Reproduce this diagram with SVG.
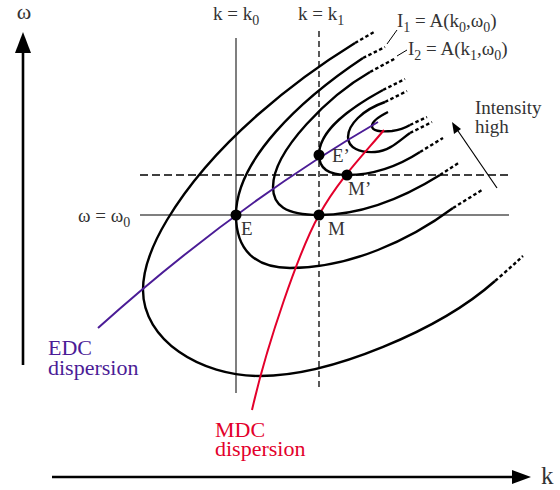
<svg xmlns="http://www.w3.org/2000/svg" width="560" height="490" viewBox="0 0 560 490">
<style>
text{font-family:"Liberation Serif","Times New Roman",serif;font-size:19px;fill:#333}
text.big{font-size:22px}
text.ax{font-size:22px}
text.axk{font-size:25px}
text.edc{fill:#4b1c96}
text.mdc{fill:#e3002b}
.c{fill:none;stroke:#000;stroke-width:2.4}
.cd{fill:none;stroke:#000;stroke-width:2.4;stroke-dasharray:3.5 2.5}
.g{stroke:#555;stroke-width:1.5;fill:none}
.gd{stroke:#000;stroke-width:1.3;fill:none;stroke-dasharray:6 4}
.dot{fill:#000}
tspan.sub{font-size:14px}
</style>
<rect width="560" height="490" fill="#fff"/>
<g id="axes">
<line x1="23" y1="365" x2="23" y2="50" stroke="#000" stroke-width="2.6"/>
<polygon points="23,32 15,53 31,53" fill="#000"/>
<line x1="52" y1="477" x2="515" y2="477" stroke="#000" stroke-width="2.6"/>
<polygon points="531,477 512,470 512,484" fill="#000"/>
<text class="ax" x="24" y="19" text-anchor="middle">ω</text>
<text class="axk" x="541" y="484">k</text>
</g>
<g id="guides">
<line class="g" x1="236" y1="38" x2="236" y2="393"/>
<line class="gd" x1="319" y1="31" x2="319" y2="390"/>
<line class="g" x1="140" y1="215" x2="509" y2="215"/>
<line class="gd" x1="140" y1="175" x2="511" y2="175" style="stroke-dasharray:8 4"/>
</g>
<g id="contours">
<path class="c" d="M355,43 C300,77 215,140 167,220 C152,245 143,268 143,290 C143,340 200,376 260,376 C330,376 440,330 495,281"/>
<path class="cd" d="M355,43 L374,32 M495,281 Q510,268 523,256"/>
<path class="c" d="M363,58 C300,100 236,160 236,215 C236,250 255,268 290,268 C350,268 410,240 453,208"/>
<path class="cd" d="M363,58 L385,47 M453,208 L482,190"/>
<path class="c" d="M370,72 C330,95 273,150 273,187 C273,205 285,215 319,215 C360,215 400,200 440,175"/>
<path class="cd" d="M370,72 L396,58 M440,175 L460,162"/>
<path class="c" d="M383,90 C350,108 319,130 319,155 C319,170 330,175 347,175 C375,175 400,165 420,152"/>
<path class="cd" d="M383,90 L405,79 M420,152 L443,138"/>
<path class="c" d="M385,102 C362,110 348,125 348,137 C348,148 360,153 375,152 C390,151 400,140 410,133"/>
<path class="cd" d="M385,102 L407,91 M410,133 L432,122"/>
<path class="c" d="M388,112 C378,117 372,122 372,126 C372,131 380,132 392,131 C400,130 405,128 410,125"/>
<path class="cd" d="M410,125 L427,117"/>
</g>
<g id="dispersions">
<path d="M98,328 Q235,205 378,122" fill="none" stroke="#4b1c96" stroke-width="2"/>
<path d="M252,410 C267,344 299,251 319,215 C339,179 364,154 384,130" fill="none" stroke="#e3002b" stroke-width="2"/>
</g>
<g id="points">
<circle class="dot" cx="236" cy="215" r="5.5"/>
<circle class="dot" cx="319" cy="215" r="5.5"/>
<circle class="dot" cx="319" cy="155" r="5.5"/>
<circle class="dot" cx="347" cy="175" r="5.5"/>
</g>
<g id="labels">
<text x="213" y="20">k = k<tspan class="sub" dy="5">0</tspan></text>
<text x="298" y="20">k = k<tspan class="sub" dy="5">1</tspan></text>
<text x="397" y="27">I<tspan class="sub" dy="5">1</tspan><tspan dy="-5"> = A(k</tspan><tspan class="sub" dy="5">0</tspan><tspan dy="-5">,ω</tspan><tspan class="sub" dy="5">0</tspan><tspan dy="-5">)</tspan></text>
<text x="408" y="55">I<tspan class="sub" dy="5">2</tspan><tspan dy="-5"> = A(k</tspan><tspan class="sub" dy="5">1</tspan><tspan dy="-5">,ω</tspan><tspan class="sub" dy="5">0</tspan><tspan dy="-5">)</tspan></text>
<line x1="387" y1="44" x2="397" y2="30" stroke="#000" stroke-width="1"/>
<line x1="397" y1="56" x2="407" y2="50" stroke="#000" stroke-width="1"/>
<text x="78" y="222">ω = ω<tspan class="sub" dy="5">0</tspan></text>
<text x="241" y="235">E</text>
<text x="328" y="235">M</text>
<text x="332" y="162">E’</text>
<text x="348" y="195">M’</text>
<text x="475" y="114">Intensity</text>
<text x="475" y="133">high</text>
<line x1="497" y1="188" x2="456" y2="128" stroke="#000" stroke-width="1.2"/>
<polygon points="452,122 454,134 461,129" fill="#000"/>
<text class="big edc" x="48" y="355">EDC</text>
<text class="big edc" x="48" y="375">dispersion</text>
<text class="big mdc" x="215" y="437">MDC</text>
<text class="big mdc" x="215" y="456">dispersion</text>
</g>
</svg>
